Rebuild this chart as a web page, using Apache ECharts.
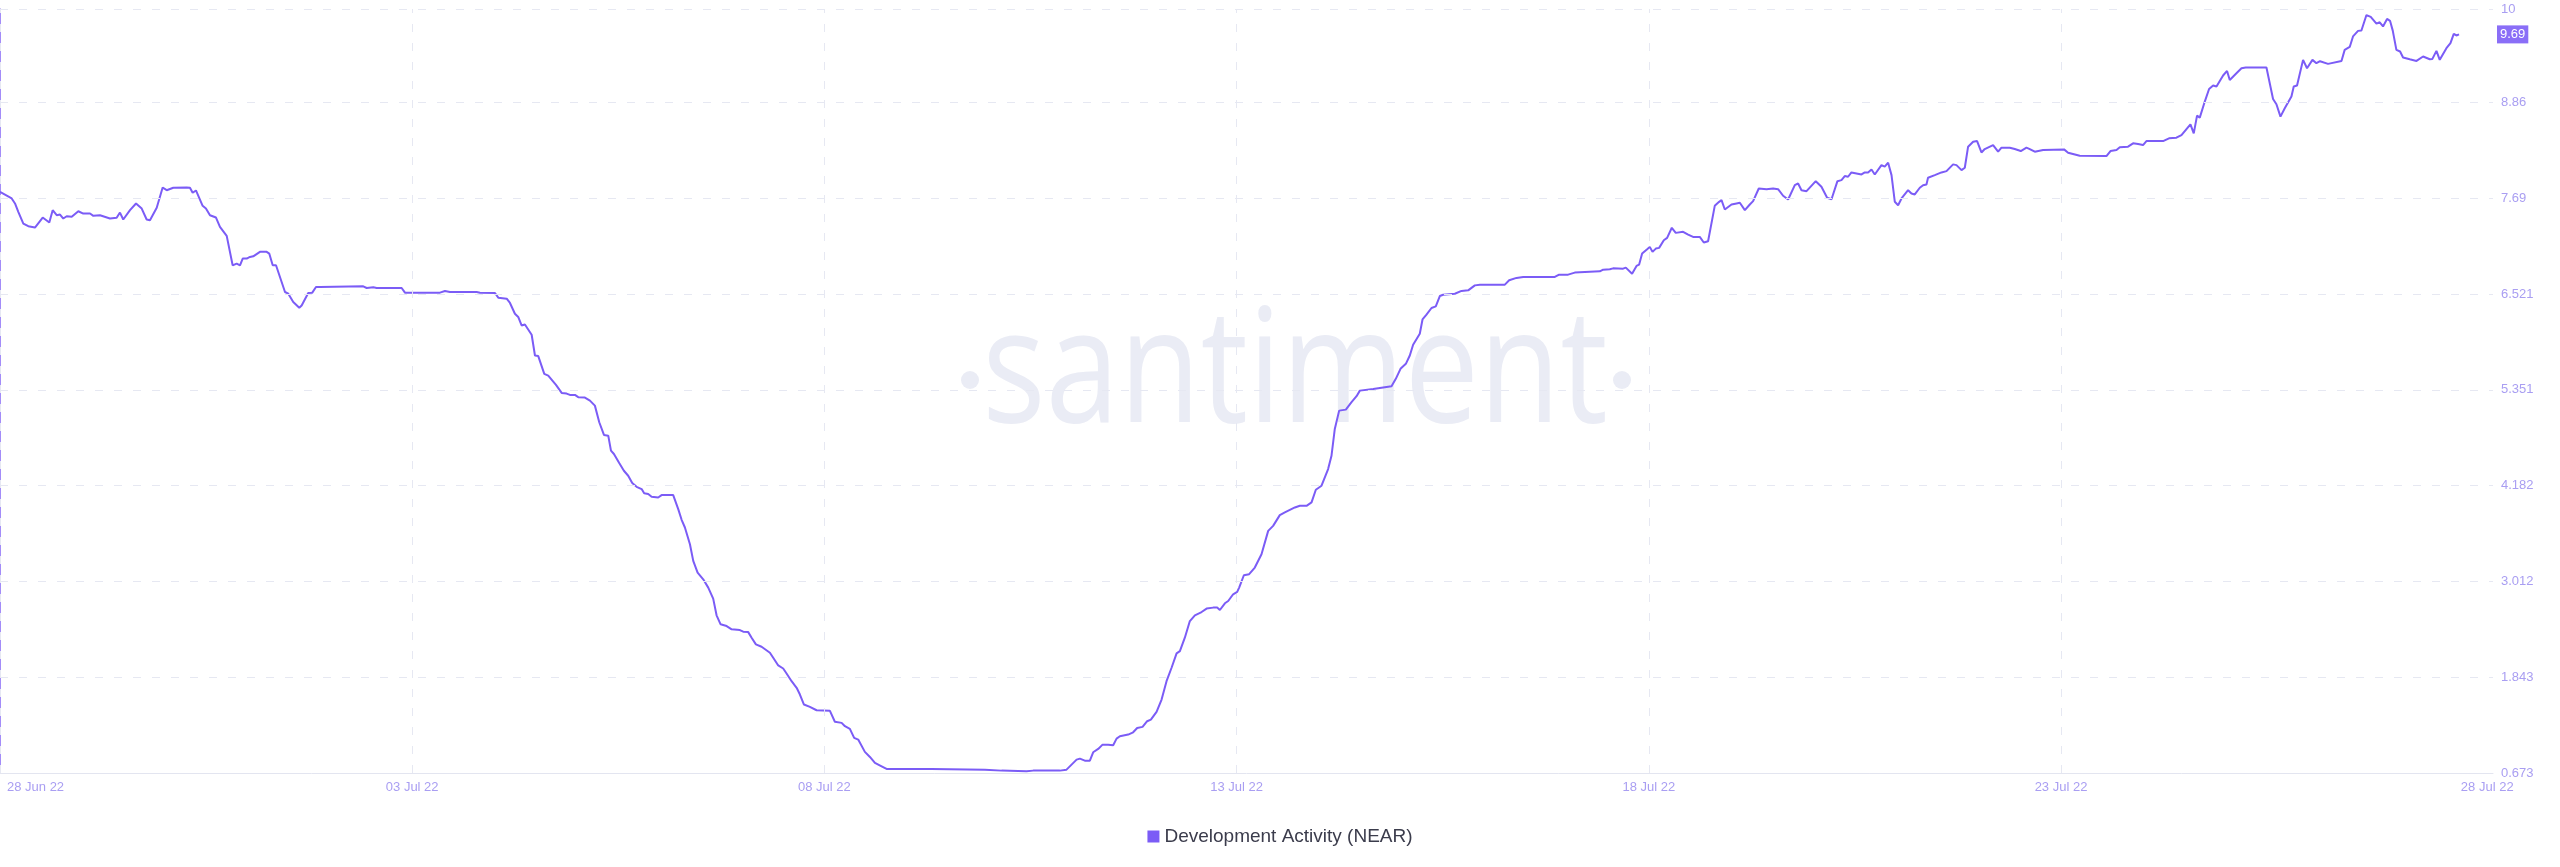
<!DOCTYPE html>
<html>
<head>
<meta charset="utf-8">
<script src="https://cdn.jsdelivr.net/npm/echarts@6/dist/echarts.min.js"></script>
<style>
  html, body { margin: 0; padding: 0; background: #ffffff; }
  #chart { width: 2560px; height: 867px; }
</style>
</head>
<body>
<div id="chart"></div>
<script>
// ---- Data ----
const seriesName = 'Development Activity (NEAR)';
const startDateUTC = Date.UTC(2022, 5, 28); // 28 Jun 2022
// time of each point, in days since 28 Jun 2022 00:00
const dayOffsets = [
  0.000,0.142,0.182,0.222,0.283,0.343,0.424,0.518,0.598,0.639,0.688,0.728,0.768,0.809,0.870,0.950,
  1.010,1.092,1.132,1.213,1.334,1.415,1.455,1.495,1.577,1.650,1.719,1.779,1.819,1.901,1.973,
  2.022,2.102,2.264,2.304,2.337,2.377,2.458,2.498,2.547,2.620,2.668,2.750,2.822,2.871,2.911,2.944,2.992,
  3.032,3.072,3.153,3.235,3.266,3.308,3.348,3.457,3.497,3.557,3.630,3.659,3.739,3.788,3.833,3.881,
  4.406,4.448,4.528,4.569,4.872,4.912,5.337,5.397,5.458,5.782,5.822,
  6.004,6.044,6.146,6.186,6.246,6.286,6.327,6.367,6.449,6.489,6.529,6.602,6.650,6.744,6.813,6.873,6.913,6.974,
  7.014,7.095,7.156,7.216,7.269,7.326,7.378,7.411,7.447,7.511,7.568,7.620,7.669,7.722,7.783,7.814,7.863,7.904,7.984,
  8.025,8.166,8.227,8.268,8.308,8.369,8.409,8.462,8.530,8.591,8.651,8.692,8.741,8.814,8.875,8.975,
  9.015,9.076,9.117,9.169,9.238,9.339,9.379,9.440,9.500,9.541,9.602,9.663,9.703,9.752,9.824,9.905,
  10.067,10.127,10.209,10.249,10.309,10.361,10.410,10.491,10.552,10.613,10.694,10.754,
  11.300,11.320,11.947,11.967,12.149,12.169,12.452,12.532,12.856,12.937,
  13.059,13.099,13.159,13.220,13.260,13.321,13.374,13.442,13.503,13.544,13.584,13.685,13.745,13.794,13.859,13.915,13.960,
  14.029,14.090,14.150,14.211,14.272,14.312,14.372,14.433,14.494,14.575,14.636,14.716,14.764,14.797,14.858,14.898,14.958,
  15.007,15.031,15.088,15.152,15.221,15.302,15.383,15.443,15.524,15.585,15.707,15.767,15.848,15.909,15.961,
  16.030,16.110,16.151,16.191,16.244,16.325,16.394,16.455,16.495,16.657,16.879,16.931,16.988,
  17.053,17.101,17.141,17.222,17.255,17.303,17.364,17.416,17.465,17.505,17.647,17.728,17.809,17.890,17.951,
  18.254,18.306,18.395,18.476,18.860,18.912,
  19.021,19.102,19.224,19.406,19.446,19.527,19.567,19.688,19.721,19.797,19.851,19.882,19.919,19.980,
  20.012,20.045,20.085,20.125,20.182,20.222,20.246,20.279,20.327,20.416,20.477,20.537,20.618,20.667,20.719,20.800,20.853,20.882,20.922,
  21.003,21.064,21.104,21.128,21.165,21.225,21.265,21.334,21.428,21.508,21.568,21.629,21.690,21.771,21.811,21.852,21.913,
  22.025,22.094,22.163,22.216,22.288,22.337,22.377,22.417,22.458,22.580,22.620,22.660,22.701,22.741,22.822,22.862,22.903,22.944,22.984,
  23.024,23.065,23.145,23.186,23.226,23.287,23.327,23.368,23.387,23.469,23.550,23.611,23.691,23.732,23.793,23.833,23.873,23.934,23.982,
  24.035,24.075,24.176,24.237,24.278,24.378,24.439,24.512,24.581,24.621,24.682,24.783,
  25.037,25.086,25.227,25.551,25.600,25.673,25.713,25.813,25.874,25.935,25.995,
  26.036,26.238,26.310,26.400,26.461,26.570,26.610,26.650,26.683,26.744,26.796,26.845,26.886,26.966,
  27.014,27.047,27.128,27.189,27.241,27.492,27.572,27.613,27.662,27.714,27.795,27.823,27.863,27.936,27.984,
  28.050,28.098,28.142,28.239,28.402,28.441,28.502,28.542,28.603,28.644,28.705,28.757,28.826,28.866,28.906,28.955,28.991,
  29.024,29.068,29.113,29.149,29.230,29.312,29.392,29.473,29.505,29.554,29.594,29.675,29.724,29.764,29.796,29.828
];
const devActivity = [
  7.769,7.687,7.626,7.524,7.381,7.348,7.332,7.454,7.393,7.544,7.483,7.491,7.442,7.470,7.463,7.531,
  7.503,7.503,7.475,7.482,7.442,7.451,7.515,7.430,7.544,7.626,7.564,7.430,7.421,7.573,7.821,
  7.788,7.818,7.821,7.818,7.756,7.785,7.597,7.564,7.482,7.454,7.341,7.230,6.871,6.892,6.871,6.953,6.953,
  6.973,6.981,7.035,7.035,7.014,6.871,6.871,6.545,6.525,6.423,6.353,6.381,6.533,6.537,6.606,6.606,
  6.614,6.594,6.602,6.594,6.594,6.537,6.537,6.557,6.545,6.545,6.537,
  6.533,6.476,6.463,6.411,6.280,6.240,6.137,6.149,6.023,5.770,5.763,5.546,5.525,5.411,5.313,5.305,5.289,5.289,
  5.261,5.256,5.219,5.158,4.955,4.800,4.791,4.608,4.567,4.457,4.363,4.302,4.213,4.167,4.139,4.087,4.078,4.045,4.037,
  4.066,4.066,3.894,3.764,3.670,3.466,3.262,3.120,3.038,2.936,2.802,2.598,2.488,2.467,2.427,2.418,
  2.398,2.393,2.325,2.243,2.214,2.141,2.080,1.986,1.949,1.888,1.794,1.713,1.631,1.509,1.481,1.439,
  1.432,1.299,1.285,1.244,1.212,1.102,1.081,0.931,0.869,0.796,0.754,0.722,
  0.722,0.714,0.714,0.702,0.702,0.693,0.693,0.702,0.702,0.714,
  0.836,0.849,0.824,0.824,0.926,0.967,1.019,1.019,1.011,1.093,1.121,1.142,1.170,1.223,1.236,1.305,1.325,
  1.419,1.570,1.794,1.958,2.133,2.161,2.325,2.528,2.598,2.638,2.680,2.692,2.692,2.663,2.745,2.773,2.855,
  2.884,2.937,3.087,3.100,3.181,3.344,3.629,3.690,3.821,3.854,3.915,3.935,3.935,3.976,4.131,
  4.180,4.384,4.546,4.873,5.097,5.109,5.200,5.273,5.341,5.362,5.395,5.485,5.607,
  5.668,5.770,5.901,6.035,6.210,6.268,6.350,6.369,6.496,6.512,6.524,6.558,6.565,6.626,6.635,
  6.635,6.688,6.717,6.729,6.729,6.757,
  6.757,6.782,6.790,6.797,6.818,6.822,6.834,6.830,6.843,6.769,6.863,6.879,7.014,7.067,
  7.096,7.035,7.075,7.084,7.177,7.206,7.214,7.329,7.267,7.280,7.246,7.218,7.218,7.149,7.165,7.597,7.646,7.666,7.552,
  7.613,7.626,7.634,7.613,7.544,7.613,7.654,7.809,7.800,7.809,7.800,7.720,7.674,7.849,7.870,7.788,7.776,
  7.898,7.830,7.695,7.678,7.898,7.911,7.960,7.952,8.005,7.980,8.005,8.005,8.041,7.980,8.094,8.075,8.124,7.972,7.646,
  7.605,7.687,7.788,7.748,7.736,7.818,7.849,7.858,7.940,7.972,8.005,8.021,8.103,8.094,8.033,8.062,8.319,8.380,8.388,
  8.249,8.290,8.339,8.258,8.307,8.307,8.290,8.266,8.307,8.290,8.258,8.278,
  8.286,8.246,8.209,8.204,8.266,8.278,8.311,8.319,8.360,8.351,8.339,
  8.388,8.388,8.421,8.429,8.461,8.592,8.482,8.698,8.674,8.870,9.024,9.066,9.053,9.188,
  9.244,9.134,9.216,9.277,9.286,9.286,8.902,8.837,8.686,8.788,8.931,9.053,9.066,9.379,9.277,
  9.379,9.338,9.363,9.330,9.366,9.501,9.537,9.665,9.733,9.738,9.926,9.904,9.822,9.838,9.787,9.879,9.856,
  9.736,9.501,9.481,9.408,9.387,9.366,9.420,9.387,9.391,9.489,9.379,9.522,9.583,9.697,9.677,9.690
];
// axis ticks
const xGridDays = [0, 5, 10, 15, 20, 25];
const xLabelDays = [0, 5, 10, 15, 20, 25, 30.17];
const xAxisMaxDays = 30.24;
const yTickValues = [0.673, 1.843, 3.012, 4.182, 5.351, 6.521, 7.69, 8.86, 10];
const yMin = 0.673, yMax = 10;

// ---- Build ----
const MONTHS = ['Jan','Feb','Mar','Apr','May','Jun','Jul','Aug','Sep','Oct','Nov','Dec'];
function dayLabel(d) {
  const dt = new Date(startDateUTC + Math.floor(d + 1e-6) * 86400000);
  const dd = String(dt.getUTCDate()).padStart(2, '0');
  return dd + ' ' + MONTHS[dt.getUTCMonth()] + ' ' + String(dt.getUTCFullYear()).slice(2);
}
const lineData = dayOffsets.map((d, i) => [d, devActivity[i]]);
const lastValue = devActivity[devActivity.length - 1];

const gridColor = '#e6e8f2';
const labelColor = '#a99ef2';
const lineColor = '#7b5cf6';
const wmColor = '#eaecf5';

const gridLines = [];
xGridDays.forEach(d => gridLines.push({ xAxis: d }));
yTickValues.slice(1).forEach(v => gridLines.push({ yAxis: v }));

const chart = echarts.init(document.getElementById('chart'), null, { renderer: 'canvas' });
chart.setOption({
  animation: false,
  backgroundColor: '#ffffff',
  grid: { left: 0, right: 67, top: 9, bottom: 94, containLabel: false },
  graphic: [
    { type: 'text', x: 1295, y: 377, scaleX: 0.835, z: -10, silent: true,
      style: { text: 'santiment', font: '159px "Open Sans"', fill: wmColor, textAlign: 'center', textVerticalAlign: 'middle' } },
    { type: 'circle', z: -10, silent: true, shape: { cx: 970, cy: 380, r: 9 }, style: { fill: wmColor } },
    { type: 'circle', z: -10, silent: true, shape: { cx: 1622, cy: 380, r: 9 }, style: { fill: wmColor } }
  ],
  legend: {
    data: [seriesName],
    left: 'center',
    top: 822,
    icon: 'rect',
    itemWidth: 12,
    itemHeight: 12,
    itemGap: 10,
    textStyle: { fontSize: 19, color: '#3b3c4c', fontFamily: 'Liberation Sans, Arial, sans-serif' }
  },
  xAxis: {
    type: 'value',
    min: 0,
    max: xAxisMaxDays,
    axisLine: { show: true, lineStyle: { color: '#e3e5f0', width: 1 } },
    axisTick: { show: false },
    splitLine: { show: false },
    axisLabel: {
      customValues: xLabelDays,
      color: labelColor,
      fontSize: 13,
      fontFamily: 'Liberation Sans, Arial, sans-serif',
      margin: 8,
      formatter: (v) => v === 0 ? '{first|' + dayLabel(v) + '}' : dayLabel(v),
      rich: { first: { padding: [0, 0, 0, 7], color: labelColor, fontSize: 13, fontFamily: 'Liberation Sans, Arial, sans-serif' } },
      alignMinLabel: 'left'
    }
  },
  yAxis: {
    type: 'value',
    position: 'right',
    min: yMin,
    max: yMax,
    axisLine: { show: true, lineStyle: { color: '#8466f6', width: 1.5 } },
    axisTick: { show: false },
    splitLine: { show: false },
    axisLabel: {
      customValues: yTickValues,
      color: labelColor,
      fontSize: 13,
      fontFamily: 'Liberation Sans, Arial, sans-serif',
      margin: 8,
      formatter: (v) => String(+v.toFixed(3))
    }
  },
  series: [
    {
      name: '__grid',
      type: 'line',
      data: [],
      silent: true,
      z: 1,
      markLine: {
        silent: true,
        symbol: 'none',
        label: { show: false },
        lineStyle: { color: gridColor, type: [8, 11], width: 1 },
        data: gridLines,
        animation: false
      }
    },
    {
      name: seriesName,
      type: 'line',
      data: lineData,
      showSymbol: false,
      symbol: 'none',
      z: 3,
      itemStyle: { color: lineColor },
      lineStyle: { color: lineColor, width: 2 },
      markLine: {
        silent: true,
        symbol: 'none',
        lineStyle: { color: 'rgba(255,255,255,0)', width: 1, type: 'solid' },
        label: {
          show: true,
          position: 'end',
          distance: 4,
          formatter: () => lastValue.toFixed(2),
          color: '#ffffff',
          backgroundColor: '#8a6ef7',
          padding: [3, 3, 2, 3],
          fontSize: 13,
          fontFamily: 'Liberation Sans, Arial, sans-serif'
        },
        emphasis: { disabled: true },
        data: [{ yAxis: lastValue }],
        animation: false
      }
    }
  ]
});
</script>
</body>
</html>
